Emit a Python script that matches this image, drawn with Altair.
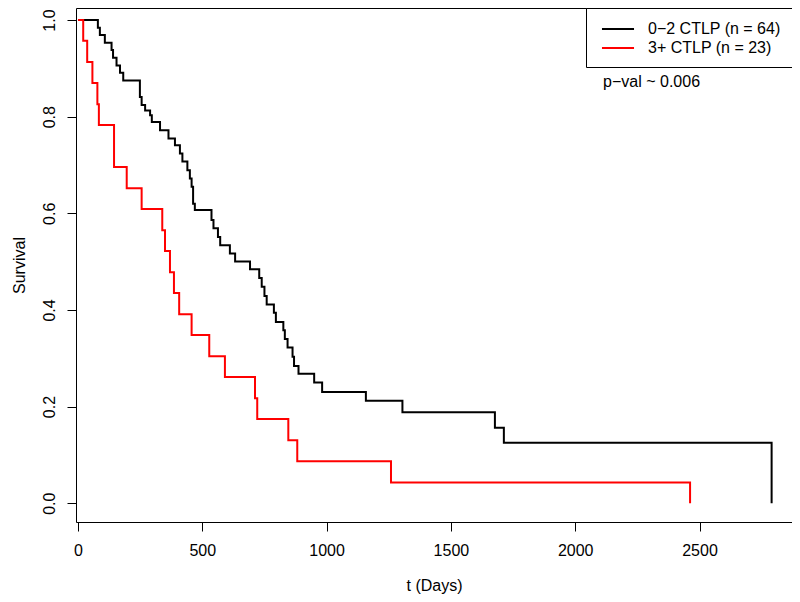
import altair as alt
import pandas as pd

FONT = "Liberation Sans"

black_label = "0\u22122 CTLP (n = 64)"
red_label = "3+ CTLP (n = 23)"

# Kaplan-Meier step curves (time in days, survival after the step)
black_t = [0, 80, 88, 108, 135, 141, 155, 169, 182, 249, 256, 270, 290, 297, 330,
           364, 390, 410, 420, 440, 450, 457, 463, 470, 537, 545, 563, 572, 611,
           632, 692, 729, 739, 750, 759, 788, 796, 826, 832, 843, 863, 869, 887,
           950, 982, 1158, 1305, 1677, 1713, 2790]
black_s = [1.0, 0.984, 0.969, 0.953, 0.938, 0.922, 0.906, 0.891, 0.875, 0.841,
           0.824, 0.813, 0.803, 0.789, 0.772, 0.755, 0.741, 0.724, 0.707, 0.689,
           0.672, 0.655, 0.620, 0.607, 0.586, 0.569, 0.551, 0.534, 0.517, 0.500,
           0.484, 0.466, 0.448, 0.429, 0.411, 0.394, 0.375, 0.358, 0.340, 0.322,
           0.303, 0.284, 0.268, 0.250, 0.230, 0.212, 0.188, 0.156, 0.125, 0.0]

red_t = [0, 21, 37, 58, 78, 84, 145, 196, 256, 339, 350, 370, 386, 407, 457, 528,
         591, 712, 721, 846, 882, 1259, 2462]
red_s = [1.0, 0.957, 0.913, 0.870, 0.826, 0.783, 0.696, 0.652, 0.609, 0.565, 0.522,
         0.478, 0.435, 0.391, 0.348, 0.304, 0.261, 0.217, 0.174, 0.130, 0.087,
         0.043, 0.0]

x_ticks = [0, 500, 1000, 1500, 2000, 2500]
y_ticks = [0.0, 0.2, 0.4, 0.6, 0.8, 1.0]

note_text = ["p\u2212val ~ 0.006"]
note_t = [2112]
note_s = [0.872]

rows = [{"t": t, "s": s, "group": black_label} for t, s in zip(black_t, black_s)]
rows += [{"t": t, "s": s, "group": red_label} for t, s in zip(red_t, red_s)]
df = pd.DataFrame(rows)
note_df = pd.DataFrame({"t": note_t, "s": note_s, "label": note_text})

xscale = alt.Scale(domain=[-8, 2872], nice=False, zero=False)
yscale = alt.Scale(domain=[-0.039, 1.025], nice=False, zero=False)

lines = alt.Chart(df).mark_line(interpolate="step-after", strokeWidth=2).encode(
    x=alt.X("t:Q", scale=xscale,
            axis=alt.Axis(title="t (Days)", values=x_ticks, format="d",
                          labelPadding=11, titleY=68, titleBaseline="alphabetic")),
    y=alt.Y("s:Q", scale=yscale,
            axis=alt.Axis(title="Survival", values=y_ticks, format=".1f",
                          labelAngle=270, labelAlign="center",
                          labelBaseline="alphabetic", labelPadding=13,
                          titleAngle=270, titleX=-52, titleBaseline="alphabetic")),
    color=alt.Color("group:N",
                    scale=alt.Scale(domain=[black_label, red_label],
                                    range=["#000000", "#ff0000"]),
                    legend=alt.Legend(title=None, orient="top-right", offset=0,
                                      padding=11, strokeColor="black",
                                      fillColor="white",
                                      symbolType="M-1.78,0L1.78,0",
                                      symbolSize=324, symbolStrokeWidth=2,
                                      labelFontSize=16, labelFont=FONT,
                                      labelColor="black", labelOffset=20,
                                      rowPadding=1, symbolOffset=11,
                                      labelLimit=400, cornerRadius=0)),
)

note = alt.Chart(note_df).mark_text(align="left", baseline="middle", fontSize=16,
                                    font=FONT, color="black").encode(
    x="t:Q", y="s:Q", text="label:N")

chart = alt.layer(lines, note).properties(
    width=716, height=514,
    padding={"left": 68, "top": 0, "right": 0, "bottom": 72},
    autosize=alt.AutoSizeParams(type="none"),
).configure_view(stroke="black", strokeWidth=1).configure_axis(
    domain=False, grid=False, tickColor="black", tickWidth=1, tickSize=9,
    labelColor="black", labelFont=FONT, labelFontSize=16,
    titleFont=FONT, titleFontSize=16, titleFontWeight="normal", titleColor="black",
)

chart.save("out.html", embed_options={"renderer": "svg", "actions": False})
